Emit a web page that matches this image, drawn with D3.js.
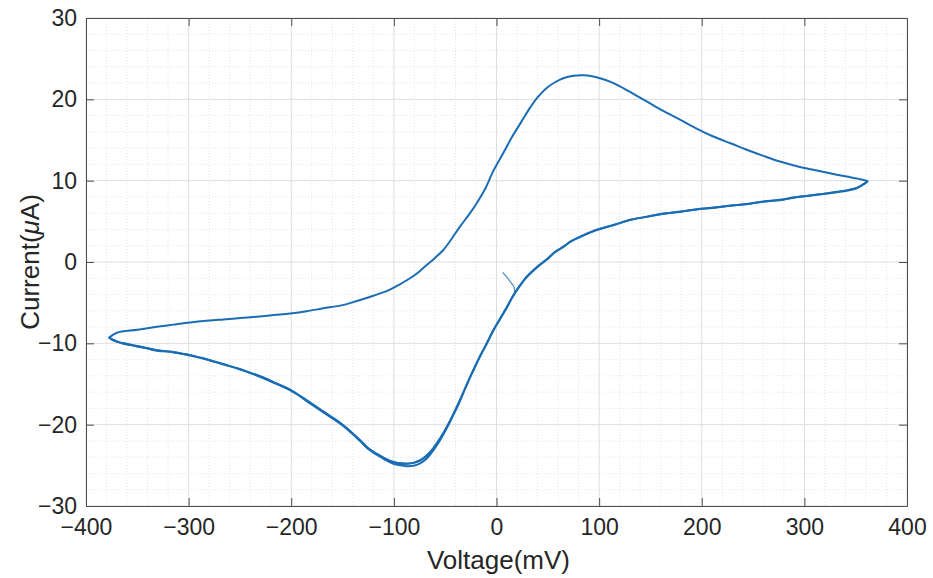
<!DOCTYPE html>
<html>
<head>
<meta charset="utf-8">
<script src="https://cdn.jsdelivr.net/npm/d3@7/dist/d3.min.js"></script>
<style>
  html, body { margin: 0; padding: 0; background: #fff; }
  svg { display: block; }
  text { font-family: "Liberation Sans", Arial, Helvetica, sans-serif; fill: #262626; }
</style>
</head>
<body>
<svg id="chart" width="933" height="578"></svg>
<script>
// Axis ticks
const xTicks = [-400, -300, -200, -100, 0, 100, 200, 300, 400];
const yTicks = [-30, -20, -10, 0, 10, 20, 30];

// Initial segment at the start of the scan (mV, µA)
const startV = [6.0, 11.0, 14.5, 17.0, 18.0];
const startI = [-1.27, -2.0, -2.6, -3.04, -3.86];

// Anodic sweep: -377.5 mV -> +361.5 mV
const forwardV = [-377.5, -370, -350, -331, -315, -298.6, -280, -266, -250, -233.6,
  -215, -201, -185, -168.7, -150, -136, -120, -103.8, -95, -84.3,
  -76, -68, -60, -51.8, -44, -35.6, -27, -19.3, -11, -3.1,
  6.6, 14.8, 24, 32.6, 40, 48.9, 57, 65.1, 75, 84.6,
  93, 100.8, 110, 120.3, 133, 146.3, 162, 178.8, 195, 211.2,
  228, 243.8, 260, 276.2, 292, 308.6, 325, 341.2, 352, 361.5];
const forwardI = [-9.3, -8.7, -8.33, -7.97, -7.7, -7.43, -7.2, -7.06, -6.9, -6.73,
  -6.5, -6.32, -6.05, -5.7, -5.3, -4.8, -4.15, -3.4, -2.8, -2.0,
  -1.25, -0.37, 0.5, 1.48, 2.8, 4.35, 5.8, 7.23, 9.0, 11.2,
  13.4, 15.3, 17.2, 18.95, 20.25, 21.4, 22.1, 22.6, 22.9, 22.95,
  22.85, 22.6, 22.2, 21.6, 20.7, 19.74, 18.6, 17.5, 16.4, 15.43,
  14.6, 13.8, 13.05, 12.35, 11.8, 11.33, 10.9, 10.5, 10.25, 9.95];

// Cathodic sweep: +361.5 mV -> -377.5 mV
const reverseV = [361.5, 350.9, 330, 308.6, 290, 276.2, 260, 243.8, 228, 211.2,
  195, 178.8, 162, 146.3, 130, 113.8, 97, 81.4, 73, 65.1,
  57, 48.9, 40, 29.4, 23, 16.4, 10, 3.4, -3, -9.5,
  -16, -22.6, -29, -35.6, -42, -48.5, -55, -61.6, -68, -74.5,
  -81, -87.5, -94, -100.5, -108, -116.7, -125, -133, -150, -168.7,
  -185, -201, -217, -233.6, -250, -266, -282, -298.6, -315, -331,
  -347, -363.6, -372, -377.5];
const reverseI1 = [9.95, 9.07, 8.55, 8.25, 7.9, 7.64, 7.4, 7.14, 6.92, 6.69,
  6.45, 6.2, 5.9, 5.58, 5.15, 4.56, 3.9, 3.12, 2.55, 1.89,
  1.2, 0.33, -0.55, -1.81, -2.9, -4.1, -5.6, -7.0, -8.4, -10.0,
  -11.6, -13.3, -15.1, -17.0, -18.7, -20.3, -21.7, -22.9, -23.8, -24.4,
  -24.7, -24.8, -24.75, -24.6, -24.2, -23.6, -22.9, -21.9, -20.0, -18.4,
  -17.0, -15.76, -14.8, -13.9, -13.2, -12.56, -12.0, -11.45, -11.1, -10.84,
  -10.45, -10.0, -9.7, -9.3];
const reverseI2 = [9.9, 9.12, 8.6, 8.2, 7.95, 7.6, 7.45, 7.1, 6.95, 6.65,
  6.5, 6.15, 5.95, 5.55, 5.2, 4.5, 3.95, 3.05, 2.6, 1.85,
  1.25, 0.28, -0.6, -1.86, -2.85, -4.15, -5.55, -7.05, -8.35, -10.05,
  -11.55, -13.35, -15.05, -17.1, -18.8, -20.45, -21.9, -23.15, -24.15, -24.75,
  -25.05, -25.1, -25.0, -24.8, -24.35, -23.7, -23.0, -22.0, -20.1, -18.5,
  -17.1, -15.7, -14.85, -13.95, -13.15, -12.6, -11.95, -11.5, -11.05, -10.9,
  -10.4, -10.05, -9.65, -9.3];

const svg = d3.select("#chart");
const plot = { left: 86, right: 907, top: 18, bottom: 506 };

const x = d3.scaleLinear().domain([-400, 400]).range([plot.left, plot.right]);
const y = d3.scaleLinear().domain([-30, 30]).range([plot.bottom, plot.top]);

// Minor grid (every 20 mV / 2 µA), dotted
const xMinor = d3.range(-400, 401, 20).filter(v => v % 100 !== 0);
const yMinor = d3.range(-30, 31, 2).filter(v => v % 10 !== 0);
const grid = svg.append("g");
grid.selectAll(".xm").data(xMinor).join("line")
  .attr("x1", d => x(d)).attr("x2", d => x(d))
  .attr("y1", plot.top).attr("y2", plot.bottom)
  .attr("stroke", "#e4e4e4").attr("stroke-width", 1).attr("stroke-dasharray", "1,2");
grid.selectAll(".ym").data(yMinor).join("line")
  .attr("x1", plot.left).attr("x2", plot.right)
  .attr("y1", d => y(d)).attr("y2", d => y(d))
  .attr("stroke", "#e4e4e4").attr("stroke-width", 1).attr("stroke-dasharray", "1,2");

// Major grid
grid.selectAll(".xM").data(xTicks).join("line")
  .attr("x1", d => x(d)).attr("x2", d => x(d))
  .attr("y1", plot.top).attr("y2", plot.bottom)
  .attr("stroke", "#dedede").attr("stroke-width", 1);
grid.selectAll(".yM").data(yTicks).join("line")
  .attr("x1", plot.left).attr("x2", plot.right)
  .attr("y1", d => y(d)).attr("y2", d => y(d))
  .attr("stroke", "#dedede").attr("stroke-width", 1);

// Voltammogram trace
const toPts = (vs, is) => vs.map((v, k) => [v, is[k]]);
const line = d3.line().x(d => x(d[0])).y(d => y(d[1])).curve(d3.curveCatmullRom.alpha(0.5));
const firstDown = toPts(reverseV, reverseI1).filter(d => d[0] <= 16.4);
const cycle = [].concat(firstDown, toPts(forwardV, forwardI), toPts(reverseV, reverseI2));
const traceColor = "#1a6db5";

svg.append("path")
  .attr("d", line(toPts(startV, startI)))
  .attr("fill", "none").attr("stroke", traceColor).attr("stroke-width", 1.1).attr("opacity", 0.85);
svg.append("path")
  .attr("d", line(toPts(reverseV, reverseI1)))
  .attr("fill", "none").attr("stroke", traceColor).attr("stroke-width", 2)
  .attr("stroke-linejoin", "round");
svg.append("path")
  .attr("d", line(cycle))
  .attr("fill", "none").attr("stroke", traceColor).attr("stroke-width", 2)
  .attr("stroke-linejoin", "round");

// Axes with inward ticks on all four sides
const axisColor = "#4d4d4d";
const fmt = d3.format("");
const gx = svg.append("g").attr("transform", `translate(0,${plot.bottom})`)
  .call(d3.axisBottom(x).tickValues(xTicks).tickFormat(fmt).tickSizeInner(-8).tickSizeOuter(0).tickPadding(13));
const gy = svg.append("g").attr("transform", `translate(${plot.left},0)`)
  .call(d3.axisLeft(y).tickValues(yTicks).tickFormat(fmt).tickSizeInner(-8).tickSizeOuter(0).tickPadding(9));
const gxt = svg.append("g").attr("transform", `translate(0,${plot.top})`)
  .call(d3.axisTop(x).tickValues(xTicks).tickFormat("").tickSizeInner(-8).tickSizeOuter(0));
const gyr = svg.append("g").attr("transform", `translate(${plot.right},0)`)
  .call(d3.axisRight(y).tickValues(yTicks).tickFormat("").tickSizeInner(-8).tickSizeOuter(0));
[gx, gy, gxt, gyr].forEach(g => {
  g.select(".domain").attr("stroke", axisColor);
  g.selectAll(".tick line").attr("stroke", axisColor);
  g.selectAll("text").attr("font-size", 23).attr("fill", "#262626")
    .attr("font-family", "'Liberation Sans', Arial, sans-serif");
});

// Axis labels
svg.append("text")
  .attr("x", (plot.left + plot.right) / 2 + 2).attr("y", 569)
  .attr("text-anchor", "middle").attr("font-size", 26)
  .text("Voltage(mV)");
const yl = svg.append("text")
  .attr("transform", `translate(39,${(plot.top + plot.bottom) / 2}) rotate(-90)`)
  .attr("text-anchor", "middle").attr("font-size", 26);
yl.append("tspan").text("Current(");
yl.append("tspan").attr("font-style", "italic").text("μ");
yl.append("tspan").text("A)");
</script>
</body>
</html>
